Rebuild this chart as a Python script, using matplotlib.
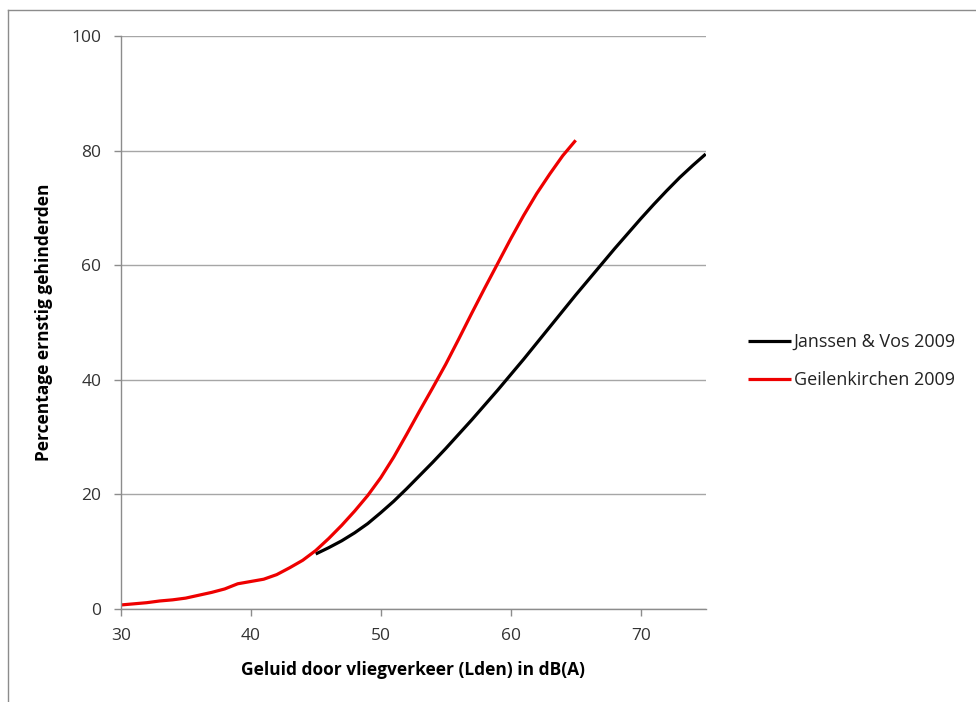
import matplotlib.pyplot as plt
from matplotlib.lines import Line2D

# Janssen & Vos 2009 curve
jv_x = [45, 46, 47, 48, 49, 50, 51, 52, 53, 54, 55, 56, 57, 58, 59, 60,
        61, 62, 63, 64, 65, 66, 67, 68, 69, 70, 71, 72, 73, 74, 75]
jv_y = [9.6, 10.7, 11.9, 13.3, 14.9, 16.8, 18.8, 21.0, 23.3, 25.6, 28.0,
        30.5, 33.0, 35.6, 38.2, 40.9, 43.6, 46.4, 49.2, 52.0, 54.8, 57.5,
        60.2, 62.9, 65.5, 68.1, 70.6, 73.0, 75.3, 77.4, 79.4]

# Geilenkirchen 2009 curve
gk_x = [30, 31, 32, 33, 34, 35, 36, 37, 38, 39, 40, 41, 42, 43, 44, 45,
        46, 47, 48, 49, 50, 51, 52, 53, 54, 55, 56, 57, 58, 59, 60, 61,
        62, 63, 64, 65]
gk_y = [0.7, 0.9, 1.1, 1.4, 1.6, 1.9, 2.4, 2.9, 3.5, 4.4, 4.8, 5.2, 6.0,
        7.2, 8.5, 10.2, 12.3, 14.6, 17.1, 19.8, 22.9, 26.5, 30.5, 34.6,
        38.6, 42.7, 47.1, 51.6, 56.0, 60.3, 64.6, 68.7, 72.5, 75.9, 79.1,
        81.8]

x_ticks = [30, 40, 50, 60, 70]
y_ticks = [0, 20, 40, 60, 80, 100]

plt.rcParams['font.family'] = ['Open Sans', 'DejaVu Sans']

fig = plt.figure(figsize=(9.76, 7.02), dpi=100)
ax = fig.add_axes([120.7/976, 1 - 609/702, 585/976, 573/702])

grey = '#8c8c8c'
ax.plot(jv_x, jv_y, color='black', lw=2.3, label='Janssen & Vos 2009',
        solid_capstyle='butt')
ax.plot(gk_x, gk_y, color='#ee0000', lw=2.3, label='Geilenkirchen 2009',
        solid_capstyle='butt')

ax.set_xlim(30, 75)
ax.set_ylim(0, 100)
ax.set_xticks(x_ticks)
ax.set_yticks(y_ticks)
ax.yaxis.grid(True, color='#a6a6a6', lw=1)
ax.set_axisbelow(True)
for s in ['top', 'right']:
    ax.spines[s].set_visible(False)
for s in ['left', 'bottom']:
    ax.spines[s].set_color(grey)
    ax.spines[s].set_linewidth(1)
ax.tick_params(axis='both', colors=grey, length=5, width=1, labelsize=12.5,
               labelcolor='#333333')
ax.tick_params(axis='y', pad=9)
ax.tick_params(axis='x', pad=9)

ax.set_xlabel('Geluid door vliegverkeer (Lden) in dB(A)', fontsize=12.5,
              fontweight='bold', labelpad=12)
ax.set_ylabel('Percentage ernstig gehinderden', fontsize=12.5,
              fontweight='bold', labelpad=13)

fig.legend(loc='center left', bbox_to_anchor=(748/976, 1 - 361/702),
           frameon=False, fontsize=13, handlelength=2.4,
           handletextpad=0.12, labelspacing=1.1, borderpad=0,
           borderaxespad=0, labelcolor='#222222')

# thin border round the chart area
fig.add_artist(Line2D([8/976, 1], [1 - 10/702, 1 - 10/702], color=grey, lw=1))
fig.add_artist(Line2D([8/976, 8/976], [0, 1 - 10/702], color=grey, lw=1))

fig.savefig('out.png', dpi=100)
